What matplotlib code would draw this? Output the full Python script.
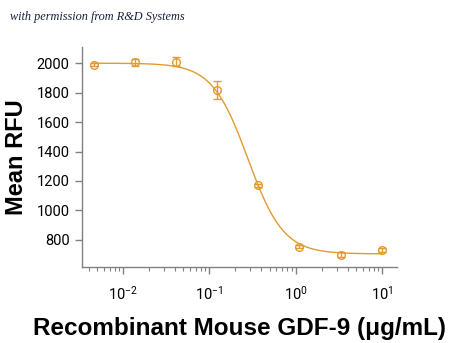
import numpy as np
import matplotlib
matplotlib.use("Agg")
import matplotlib.pyplot as plt
from matplotlib.ticker import LogLocator, NullFormatter, FixedLocator

# data
conc = [0.0046, 0.0137, 0.041, 0.123, 0.37, 1.11, 3.33, 10.0]
rfu = [1990, 2005, 2010, 1820, 1170, 755, 700, 730]
err = [12, 25, 30, 60, 12, 10, 18, 15]
# four-parameter logistic fit parameters (estimated)
fit_top, fit_bottom, fit_ec50, fit_hill = 2000, 705, 0.28, 2.1

color = "#E29B2E"
fig = plt.figure(figsize=(4.5, 3.43), dpi=100)
ax = fig.add_axes([0.182, 0.222, 0.700, 0.641])

xs = np.logspace(np.log10(conc[0]), np.log10(conc[-1]), 300)
ys = fit_bottom + (fit_top - fit_bottom) / (1 + (xs / fit_ec50) ** fit_hill)
ax.plot(xs, ys, color=color, lw=1.0)
ax.errorbar(conc, rfu, yerr=err, fmt="o", mfc="none", mec=color, ecolor=color,
            ms=5.5, mew=1.0, elinewidth=1.0, capsize=3, capthick=1.0)

ax.set_xscale("log")
ax.set_xlim(10 ** -2.475, 10 ** 1.174)
ax.set_ylim(617, 2110)
ax.set_yticks([800, 1000, 1200, 1400, 1600, 1800, 2000])
ax.xaxis.set_major_locator(FixedLocator([0.01, 0.1, 1, 10]))
ax.xaxis.set_minor_locator(LogLocator(base=10, subs=np.arange(2, 10), numticks=20))
ax.xaxis.set_minor_formatter(NullFormatter())

for s in ["top", "right"]:
    ax.spines[s].set_visible(False)
for s in ["left", "bottom"]:
    ax.spines[s].set_color("#808080")
    ax.spines[s].set_linewidth(1.0)

ax.tick_params(axis="both", which="major", color="#808080", length=5, width=1.0)
ax.tick_params(axis="x", which="minor", color="#808080", length=3, width=0.8)
ax.tick_params(axis="y", labelsize=10.5, pad=4)
ax.tick_params(axis="x", labelsize=10.5, pad=8)
for lab in ax.get_yticklabels() + ax.get_xticklabels():
    lab.set_family("Roboto")

ax.set_ylabel("Mean RFU", fontsize=17, fontweight="bold", family="Liberation Sans", labelpad=6)
ax.set_xlabel("Recombinant Mouse GDF-9 (μg/mL)", fontsize=17.5, fontweight="bold",
              family="Liberation Sans", labelpad=10)

fig.text(0.022, 0.943, "with permission from R&D Systems", fontsize=8.8, style="italic",
         family="Liberation Serif", color="#1a1f3a")

fig.savefig("out.png", dpi=100)
